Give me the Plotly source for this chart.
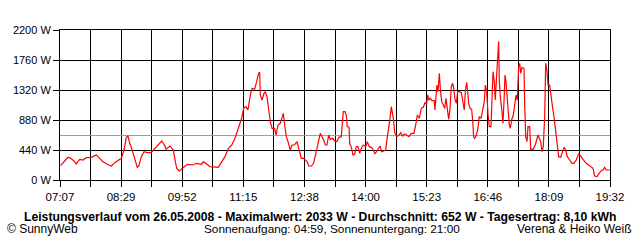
import plotly.graph_objects as go

# minutes after 07:07
t_min = [0.9, 10.8, 14.5, 19, 22, 26.7, 31, 35.6, 42.4, 49.2, 53.8, 58.2, 64.1, 69.5, 74.1, 78.6, 83, 86.7,
         89.8, 92.1, 94.4, 97.5, 101.2, 104.7, 107, 110.1, 113.8, 118.2, 123.7, 126.4, 133.1, 137.8, 142.2,
         143.6, 149, 153.5, 155.8, 158.1, 161.6, 167, 172.4, 180.6, 184.2, 191.9, 194.1, 198.7, 203.2, 214.4,
         219, 223.5, 228, 232.6, 237, 240.2, 243.8, 246.1, 247.5, 248.8, 251.9, 254.6, 257.8, 260.1, 263.7,
         266.8, 269.1, 270.5, 271.3, 273.6, 276.3, 278.1, 280.4, 282.7, 284.9, 287.2, 290.8, 292.6, 295.3,
         298.4, 300.7, 302.5, 304.4, 306.5, 308.8, 311.9, 314.2, 317.4, 321, 323.3, 326.8, 330.1, 334.6,
         336.9, 340.4, 343.6, 346.8, 349.5, 352.6, 354.9, 357.2, 359.4, 361.7, 364, 366.1, 369.4, 372.1,
         374.8, 377.9, 381, 383.7, 386, 387.8, 389.1, 391.5, 392.4, 394.6, 396.9, 399.2, 401.3, 403.6, 405.9,
         408.1, 410.8, 414.1, 416.2, 418.9, 421.7, 424.4, 426.7, 429.8, 433.4, 435.8, 438.9, 441.2, 442.5,
         444.7, 447, 448.8, 450.1, 451.5, 453.4, 456.1, 459.2, 461.5, 463.7, 466.9, 469.6, 472.7, 475.8,
         479.5, 481.8, 484, 486.7, 489.4, 492.1, 494.4, 496.7, 498.1, 499.4, 501.2, 503.9, 507, 507.9, 509.3,
         510.6, 512, 513.8, 515.1, 517, 519.2, 521.1, 522.8, 524.6, 526.5, 528.3, 530, 531.9, 533.3, 535,
         536.8, 538.7, 540.8, 543.6, 545.5, 547.6, 549, 550.9, 552.2, 553.6, 555.3, 557.6, 559, 560.3, 561.7,
         563.5, 565.8, 567.9, 570.3, 572.5, 574.7, 576.1, 578, 579.7, 581.5, 583.8, 585.1, 586.5, 588.3,
         589.6, 591.9, 593.3, 594.2, 595, 596.4, 598.7, 600, 601.4, 602.8, 604.1, 605.5, 606.8, 608.6, 609.9,
         611.8, 614, 615.9, 617.7, 619.4, 621.3, 622.7, 624, 625.8, 628.5, 629.4, 630.8, 632.6, 633.9, 636.2,
         637.6, 640.7, 643.8, 647.5, 649.8, 651.1, 652.9, 654.6, 656.5, 657.9, 659.6, 661, 663.3, 664.6,
         666.8, 669.1, 671.4, 673.6, 675.5, 678.2, 680.4, 682.7, 685, 687.2, 690.4, 693.5, 696.2, 699.3,
         702.6, 705.3, 708.4, 712.9, 717.5, 722, 724.2, 727.4, 730.1, 733.2, 735.5, 737.8, 740, 744.6]

watts = [210, 333, 318, 279, 235, 303, 293, 327, 333, 367, 318, 269, 230, 205, 254, 284, 318, 440,
         626, 645, 538, 450, 318, 186, 210, 342, 415, 401, 406, 440, 513, 572, 499,
         450, 499, 440, 293, 171, 132, 186, 230, 220, 245, 230, 269, 235, 196, 186,
         269, 342, 465, 513, 611, 709, 831, 905, 988, 1051, 1075, 1027, 1247, 1345, 1330,
         1467, 1565, 1580, 1247, 1173, 1271, 1295, 1222, 1027, 855, 758, 758, 660, 807,
         831, 929, 978, 807, 635, 562, 440, 513, 513, 562, 479, 318, 318, 269,
         205, 205, 245, 415, 538, 684, 635, 587, 513, 513, 660, 596, 611, 572,
         562, 626, 635, 1002, 1002, 953, 782, 773, 538, 479, 367, 381, 489, 489, 391,
         465, 513, 489, 562, 489, 479, 440, 381, 440, 499, 415, 430, 440, 562,
         709, 905, 1075, 988, 905, 694, 635, 660, 694, 645, 675, 660, 635, 684,
         684, 807, 953, 905, 1051, 1066, 1134, 1115, 1247, 1173, 1198, 1163, 1163, 1027, 1247,
         1393, 1295, 1565, 1345, 1149, 1100, 1051, 1198, 1027, 890, 1051, 1369, 1418, 1345, 1183,
         1124, 1295, 1295, 1281, 1149, 1027, 1295, 1432, 1295, 1124, 1051, 1037, 870, 635, 611,
         645, 733, 929, 905, 1027, 1149, 1393, 1295, 978, 782, 782, 1149, 1589, 1442,
         1173, 1613, 1882, 2033, 1467, 1222, 1002, 831, 1149, 1540, 1442, 1222, 1027, 807, 758,
         880, 953, 1075, 1247, 1173, 1662, 1711, 1565, 1653, 1638, 1124, 635, 562, 782, 782,
         450, 450, 513, 660, 587, 562, 415, 489, 929, 1711, 1613, 1393, 1393, 1247,
         1100, 929, 684, 489, 342, 333, 415, 479, 440, 342, 293, 245, 245, 293,
         391, 342, 303, 245, 205, 171, 59, 49, 98, 137, 147, 186, 147, 147]

x_labels = ["07:07", "08:29", "09:52", "11:15", "12:38", "14:00", "15:23", "16:46", "18:09", "19:32"]
y_ticks = [0, 440, 880, 1320, 1760, 2200]
y_labels = ["0 W", "440 W", "880 W", "1320 W", "1760 W", "2200 W"]
span_min = 745
average_w = 652

title_text = "Leistungsverlauf vom 26.05.2008 - Maximalwert: 2033 W - Durchschnitt: 652 W - Tagesertrag: 8,10 kWh"
footer_left = "© SunnyWeb"
footer_mid = "Sonnenaufgang: 04:59, Sonnenuntergang: 21:00"
footer_right = "Verena & Heiko Weiß"

n_grid = 2 * (len(x_labels) - 1)
x_tickvals = [i * span_min / n_grid for i in range(n_grid + 1)]
x_ticktext = [x_labels[i // 2] if i % 2 == 0 else "" for i in range(n_grid + 1)]

FONT = "Liberation Sans, Arial, sans-serif"

fig = go.Figure()
fig.add_trace(go.Scatter(x=[0, span_min], y=[average_w, average_w], mode="lines",
                         line=dict(color="#999999", width=1), hoverinfo="skip"))
fig.add_trace(go.Scatter(x=t_min, y=watts, mode="lines",
                         line=dict(color="#ff0000", width=1.2)))

fig.update_layout(
    width=640, height=240,
    margin=dict(l=60, r=30, t=30, b=60),
    paper_bgcolor="white", plot_bgcolor="white",
    showlegend=False,
    font=dict(family=FONT, size=11, color="black"),
    xaxis=dict(range=[0, span_min], tickvals=x_tickvals, ticktext=x_ticktext,
               showgrid=True, gridcolor="black", gridwidth=1,
               ticks="outside", ticklen=6, tickcolor="black", tickwidth=1,
               showline=True, linecolor="black", linewidth=1, mirror=True,
               zeroline=False, tickfont=dict(size=11.5)),
    yaxis=dict(range=[0, 2200], tickvals=y_ticks, ticktext=y_labels,
               showgrid=True, gridcolor="black", gridwidth=1,
               ticks="outside", ticklen=6, tickcolor="black", tickwidth=1,
               showline=True, linecolor="black", linewidth=1, mirror=True,
               zeroline=False, tickfont=dict(size=11)),
    annotations=[
        dict(text="<b>" + title_text + "</b>", xref="paper", yref="paper",
             x=(320 - 60) / 550, y=(180 - 216.5) / 150, xanchor="center", yanchor="middle",
             showarrow=False, font=dict(size=12.2)),
        dict(text=footer_left, xref="paper", yref="paper",
             x=(5 - 60) / 550, y=(180 - 229) / 150, xanchor="left", yanchor="middle",
             showarrow=False, font=dict(size=12)),
        dict(text=footer_mid, xref="paper", yref="paper",
             x=(202 - 60) / 550, y=(180 - 229) / 150, xanchor="left", yanchor="middle",
             showarrow=False, font=dict(size=11.8)),
        dict(text=footer_right, xref="paper", yref="paper",
             x=(634 - 60) / 550, y=(180 - 229) / 150, xanchor="right", yanchor="middle",
             showarrow=False, font=dict(size=12)),
    ],
)

fig.write_html("out.html")
